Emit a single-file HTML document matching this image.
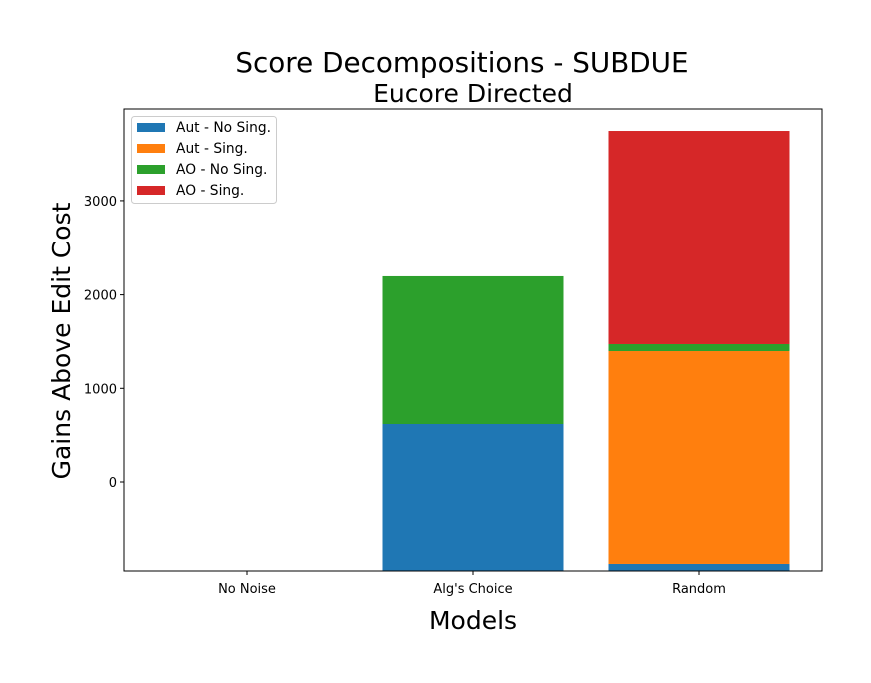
<!DOCTYPE html>
<html><head><meta charset="utf-8"><style>
body{margin:0;background:#fff;}
svg{display:block;font-family:"DejaVu Sans","Liberation Sans",sans-serif;}
</style></head><body>
<svg id="chart" width="871" height="683">
<text x="462" y="72" font-size="27.8" text-anchor="middle">Score Decompositions - SUBDUE</text>
<text x="473" y="102" font-size="25" text-anchor="middle">Eucore Directed</text>
<text x="473" y="629" font-size="25" text-anchor="middle">Models</text>
<text transform="translate(70,341) rotate(-90)" font-size="25" text-anchor="middle">Gains Above Edit Cost</text>
<g id="bars"></g>
<g id="axes"></g>
</svg>
<script>
const categories = ["No Noise", "Alg's Choice", "Random"];
const seriesNames = ["Aut - No Sing.", "Aut - Sing.", "AO - No Sing.", "AO - Sing."];
const baseline = [-950, -950, -950];
const autNoSing = [0, 1569, 75];
const autSing = [0, 0, 2273];
const aoNoSing = [0, 1580, 75];
const aoSing = [0, 0, 2273];
const yTicks = [0, 1000, 2000, 3000];
const colors = ["#1f77b4", "#ff7f0e", "#2ca02c", "#d62728"];

const NS = "http://www.w3.org/2000/svg";
const L = 124, R = 822, T = 109, B = 571;
const yMin = -950, yMax = 3981;
function y(v){ return B - (v - yMin) / (yMax - yMin) * (B - T); }
const bw = 181, step = 226;
function xc(i){ return 247 + i * step; }
function mk(tag, attrs, parent){ const e = document.createElementNS(NS, tag); for (const k in attrs) e.setAttribute(k, attrs[k]); parent.appendChild(e); return e; }

const bars = document.getElementById('bars');
const axes = document.getElementById('axes');
const series = [autNoSing, autSing, aoNoSing, aoSing];
categories.forEach((c, i) => {
  let base = baseline[i];
  series.forEach((s, k) => {
    const v = s[i];
    if (v > 0) {
      const r = mk('rect', {x: xc(i) - bw/2, y: y(base + v), width: bw, height: y(base) - y(base + v), fill: colors[k]}, bars);
      
      
    }
    base += v;
  });
  const t = mk('line', {x1: xc(i), x2: xc(i), y1: B, y2: B + 4, stroke: '#000'}, axes);
  
  
  const tl = mk('text', {x: xc(i), y: B + 22, 'font-size': 13, 'text-anchor': 'middle'}, axes);
  tl.textContent = c;
  
  
});
yTicks.forEach(v => {
  const t = mk('line', {x1: L - 4, x2: L, y1: y(v), y2: y(v), stroke: '#000'}, axes);
  
  
  const tl = mk('text', {x: L - 7, y: y(v) + 5, 'font-size': 13, 'text-anchor': 'end'}, axes);
  tl.textContent = v;
  
  
});
const frame = mk('rect', {x: L, y: T, width: R - L, height: B - T, fill: 'none', stroke: '#000', 'stroke-width': 1}, axes);



const lg = mk('g', {}, axes);


mk('rect', {x: 131.5, y: 116.5, width: 145, height: 87, rx: 3, fill: '#fff', stroke: '#ccc'}, lg);
seriesNames.forEach((n, k) => {
  const sw = mk('rect', {x: 137, y: 123 + k * 21, width: 28, height: 9, fill: colors[k]}, lg);
  
  
  const tx = mk('text', {x: 176, y: 132 + k * 21, 'font-size': 13.8}, lg);
  tx.textContent = n;
  
  
});
</script>
</body></html>
